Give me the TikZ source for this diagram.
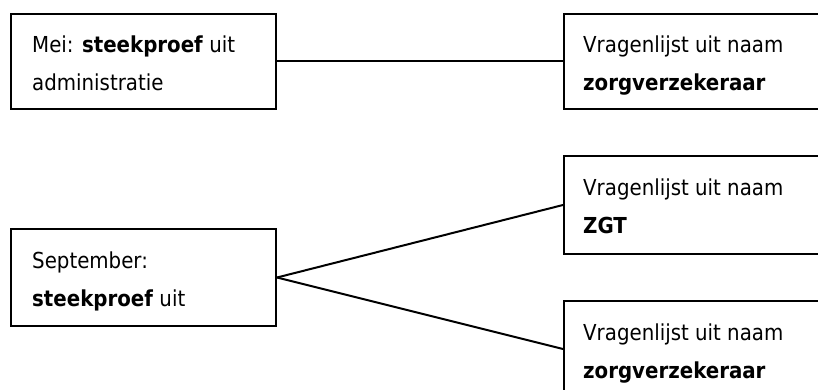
\documentclass[tikz,border=0pt]{standalone}
\usepackage{fontspec}
\setmainfont{DejaVu Sans Condensed}
\begin{document}
\begin{tikzpicture}[x=1pt,y=-1pt,
  box/.style={draw=black, line width=2pt, rectangle, inner sep=0pt, anchor=north west},
  txt/.style={anchor=base west, inner sep=0pt, font=\fontsize{22}{26}\selectfont},
  conn/.style={draw=black, line width=2pt}]
\useasboundingbox (0,0) rectangle (818,390);
\clip (0,0) rectangle (818,390);
% boxes
\node[box, minimum width=265pt, minimum height=95pt] (b1) at (10,13) {};
\node[box, minimum width=320pt, minimum height=95pt] (b2) at (563,13) {};
\node[box, minimum width=265pt, minimum height=97pt] (b3) at (10,228) {};
\node[box, minimum width=320pt, minimum height=98pt] (b4) at (563,155) {};
\node[box, minimum width=320pt, minimum height=96pt] (b5) at (563,300) {};
% texts
\node[txt] (t1a) at (32,53) {Mei: \textbf{steekproef} uit};
\node[txt] (t1b) at (32,91) {administratie};
\node[txt] (t2a) at (583,53) {Vragenlijst uit naam};
\node[txt] (t2b) at (583,91) {\textbf{zorgverzekeraar}};
\node[txt] (t3a) at (32,268) {September:};
\node[txt] (t3b) at (32,306) {\textbf{steekproef} uit};
\node[txt] (t4a) at (583,195) {Vragenlijst uit naam};
\node[txt] (t4b) at (583,233) {\textbf{ZGT}};
\node[txt] (t5a) at (583,340) {Vragenlijst uit naam};
\node[txt] (t5b) at (583,378) {\textbf{zorgverzekeraar}};
% connectors
\draw[conn] (b1.east) -- (b2.west);
\draw[conn] (b3.east) -- (b4.west);
\draw[conn] (b3.east) -- (b5.west);
\end{tikzpicture}
\end{document}
